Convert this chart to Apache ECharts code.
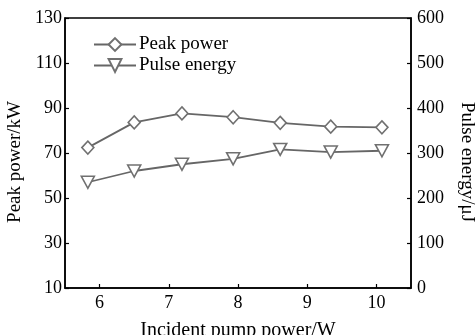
<!DOCTYPE html>
<html>
<head>
<meta charset="utf-8">
<script src="https://cdn.jsdelivr.net/npm/echarts@6/dist/echarts.min.js"></script>
<style>html,body{margin:0;padding:0;background:#fff}#c{width:475px;height:335px}</style>
</head>
<body>
<div id="c"></div>
<script>
var pumpPower = [5.83, 6.5, 7.19, 7.93, 8.61, 9.34, 10.08];
var peakPower = [72.4, 83.6, 87.6, 85.9, 83.4, 81.7, 81.4];
var pulseEnergy = [235, 260, 275, 287, 308, 302, 305];
var xTicks = [6, 7, 8, 9, 10];
var seriesNames = ['Peak power', 'Pulse energy'];

var FONT = 'Liberation Serif';
var chart = echarts.init(document.getElementById('c'), null, {renderer: 'canvas'});
function pairs(xs, ys) { return xs.map(function (x, i) { return [x, ys[i]]; }); }
chart.setOption({
  animation: false,
  backgroundColor: '#fff',
  grid: {left: 65, right: 64, top: 18, bottom: 47, outerBoundsMode: 'none', containLabel: false,
         show: true, borderColor: '#000', borderWidth: 1.5, backgroundColor: 'transparent'},
  legend: {
    orient: 'vertical', left: 93, top: 35, padding: 0, itemWidth: 42, itemHeight: 16, itemGap: 2,
    textStyle: {fontFamily: FONT, fontSize: 19, color: '#000', lineHeight: 16, padding: [0, 0, 0, -2]},
    data: seriesNames
  },
  xAxis: {
    type: 'value', min: 5.5, max: 10.5,
    name: 'Incident pump power/W', nameLocation: 'middle', nameGap: 33,
    nameTextStyle: {fontFamily: FONT, fontSize: 20, color: '#000'},
    axisLine: {lineStyle: {color: '#000', width: 1.5}},
    axisTick: {inside: true, length: 4, customValues: xTicks, lineStyle: {color: '#000', width: 1.2}},
    axisLabel: {customValues: xTicks, fontFamily: FONT, fontSize: 18, color: '#000', margin: 6},
    splitLine: {show: false}
  },
  yAxis: [{
    type: 'value', min: 10, max: 130, interval: 20, position: 'left',
    name: 'Peak power/kW', nameLocation: 'middle', nameGap: 36,
    nameTextStyle: {fontFamily: FONT, fontSize: 19, color: '#000', padding: [0, 18, 0, 0]},
    axisLine: {show: true, lineStyle: {color: '#000', width: 1.5}},
    axisTick: {show: true, inside: true, length: 4, lineStyle: {color: '#000', width: 1.2}},
    axisLabel: {fontFamily: FONT, fontSize: 18, color: '#000', margin: 3},
    splitLine: {show: false}
  }, {
    type: 'value', min: 0, max: 600, interval: 100, position: 'right',
    name: 'Pulse energy/\u03bcJ', nameLocation: 'middle', nameGap: 46, nameRotate: -90,
    nameTextStyle: {fontFamily: FONT, fontSize: 19, color: '#000', padding: [0, 0, 0, 18]},
    axisLine: {show: true, lineStyle: {color: '#000', width: 1.5}},
    axisTick: {show: true, inside: true, length: 4, lineStyle: {color: '#000', width: 1.2}},
    axisLabel: {fontFamily: FONT, fontSize: 18, color: '#000', margin: 6},
    splitLine: {show: false}
  }],
  series: [{
    name: seriesNames[0], type: 'line', yAxisIndex: 0,
    data: pairs(pumpPower, peakPower),
    symbol: 'diamond', symbolSize: [12, 13], showAllSymbol: true,
    lineStyle: {color: '#666', width: 1.8},
    itemStyle: {color: '#fff', borderColor: '#707070', borderWidth: 1.6}
  }, {
    name: seriesNames[1], type: 'line', yAxisIndex: 1,
    data: pairs(pumpPower, pulseEnergy),
    symbol: 'triangle', symbolRotate: 180, symbolSize: [13, 12], showAllSymbol: true,
    lineStyle: {color: '#666', width: 1.8},
    itemStyle: {color: '#fff', borderColor: '#707070', borderWidth: 1.6}
  }]
});
</script>
</body>
</html>
